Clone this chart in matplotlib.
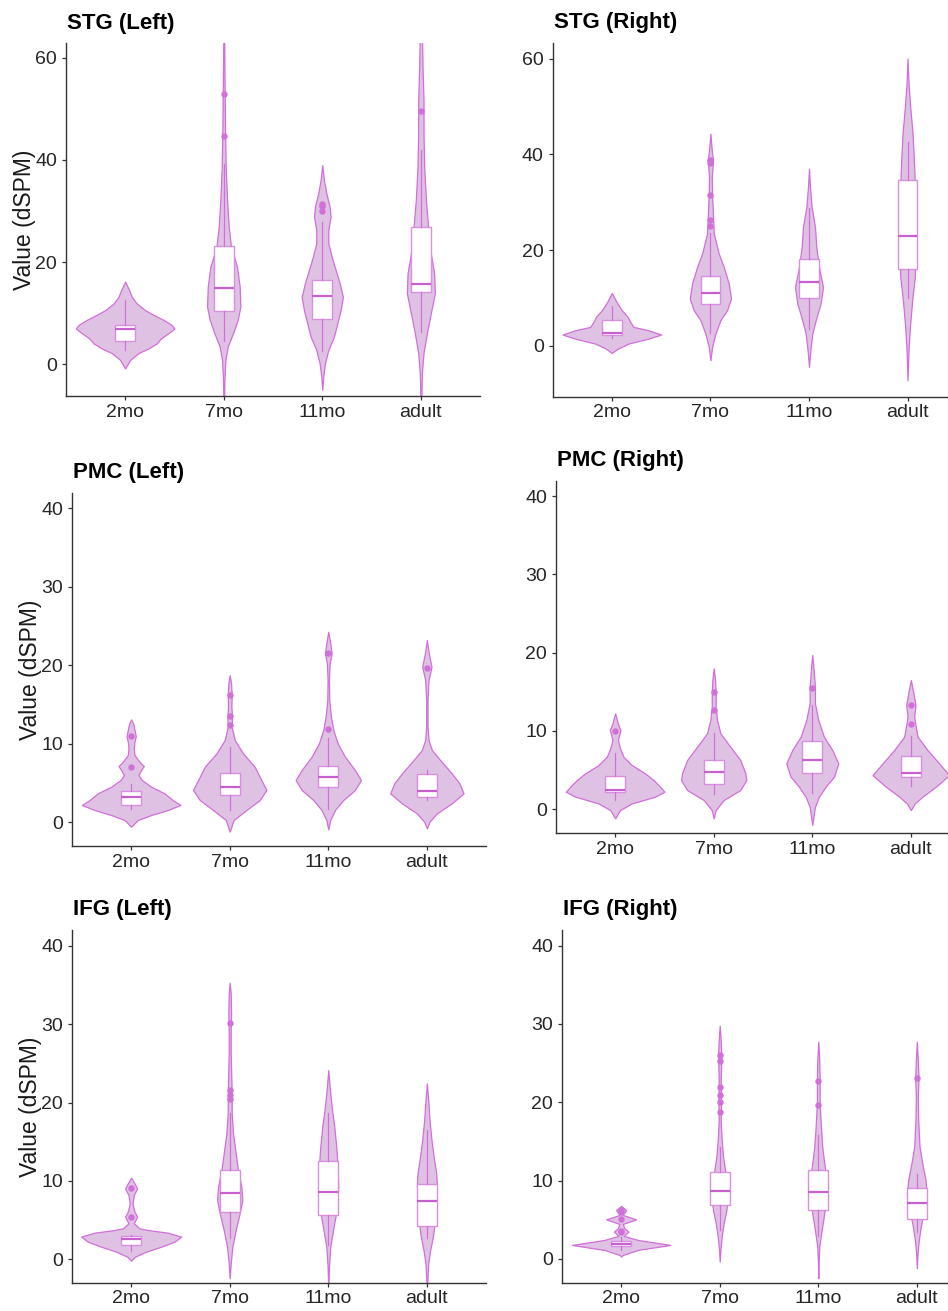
import matplotlib
matplotlib.use("Agg")
import matplotlib.pyplot as plt

plt.rcParams['font.family'] = ['Liberation Sans', 'DejaVu Sans']

categories = ['2mo', '7mo', '11mo', 'adult']

# ---------------- STG (Left) ----------------
stg_l_vy = [
    [-0.8, 0.85, 2.2, 3.1, 4.1, 5.1, 6.1, 7.0, 7.7, 8.7, 9.7, 10.6, 11.9, 13.2, 14.5, 16.2],
    [-8.0, -3.1, 0.85, 3.5, 6.1, 8.7, 11.3, 15.2, 19.1, 23.0, 26.9, 32.2, 38.7, 45.2, 53.0, 66.0],
    [-5.0, -2.4, 0.2, 2.8, 5.4, 8.0, 10.6, 13.2, 15.9, 18.5, 21.1, 23.7, 26.3, 28.9, 30.9, 33.5, 36.1, 39.0],
    [-8.0, -1.8, 2.2, 6.1, 10.0, 13.9, 17.8, 21.7, 26.9, 32.2, 38.7, 45.2, 51.7, 58.3, 66.0],
]
stg_l_vw = [
    [0, .05, .135, .236, .321, .365, .439, .50, .473, .389, .287, .203, .118, .068, .041, 0],
    [.003, .007, .017, .041, .095, .142, .169, .162, .135, .074, .051, .034, .02, .014, .01, .003],
    [0, .01, .027, .061, .118, .152, .186, .209, .176, .135, .095, .061, .061, .084, .074, .041, .017, 0],
    [.003, .01, .027, .061, .101, .142, .135, .101, .074, .051, .034, .027, .027, .017, .01],
]
stg_l_q1 = [4.6, 10.4, 8.8, 14.2]
stg_l_med = [7.0, 14.9, 13.4, 15.7]
stg_l_q3 = [7.7, 23.2, 16.5, 26.8]
stg_l_lo = [2.9, 4.6, 2.7, 6.4]
stg_l_hi = [12.6, 39.3, 27.9, 42.0]
stg_l_out = [[], [44.6, 53.0], [30.1, 30.9, 31.3], [49.6]]

# ---------------- STG (Right) ----------------
stg_r_vy = [
    [-1.46, -0.56, 0.49, 1.53, 2.37, 3.27, 3.97, 5.01, 6.05, 7.45, 9.19, 11.06],
    [-2.99, -0.21, 2.57, 5.36, 7.45, 9.88, 13.0, 16.5, 19.3, 23.5, 26.9, 31.8, 35.3, 38.8, 40.8, 44.3],
    [-4.38, -0.9, 2.57, 5.36, 8.84, 12.3, 16.5, 20.7, 24.8, 29.0, 33.2, 37.0],
    [-7.17, -0.9, 3.97, 9.53, 14.4, 20.0, 26.9, 33.9, 40.2, 44.3, 49.9, 54.8, 60.0],
]
stg_r_vw = [
    [0, .061, .169, .372, .50, .372, .22, .186, .162, .101, .047, 0],
    [0, .017, .051, .101, .169, .209, .186, .135, .084, .034, .027, .017, .014, .027, .014, 0],
    [0, .014, .034, .068, .118, .142, .101, .074, .061, .027, .01, 0],
    [0, .01, .024, .047, .074, .081, .081, .074, .061, .051, .027, .01, 0],
]
stg_r_q1 = [2.2, 8.7, 9.9, 16.1]
stg_r_med = [2.8, 11.1, 13.4, 22.9]
stg_r_q3 = [5.4, 14.5, 18.2, 34.6]
stg_r_lo = [1.7, 2.6, 3.6, 9.9]
stg_r_hi = [8.3, 23.5, 28.7, 42.6]
stg_r_out = [[], [25.0, 26.2, 31.5, 38.1, 38.8], [], []]

# ---------------- PMC (Left) ----------------
pmc_l_vy = [
    [-0.6, 0.26, 0.89, 1.53, 2.17, 2.8, 3.66, 4.5, 5.35, 5.99, 6.63, 7.14, 7.69, 8.54, 9.39, 10.24, 10.96, 11.73, 12.58, 13.09],
    [-1.23, 0.26, 1.53, 2.8, 4.08, 5.35, 7.05, 8.75, 10.45, 12.15, 13.43, 14.7, 16.19, 17.68, 18.74],
    [-0.93, 0.26, 1.53, 2.8, 4.08, 5.35, 6.63, 8.33, 10.03, 11.73, 13.43, 15.55, 18.1, 20.23, 21.5, 22.78, 24.27],
    [-0.81, 0.04, 1.1, 2.38, 3.65, 4.93, 6.2, 7.9, 9.18, 10.45, 12.15, 15.55, 18.1, 19.8, 21.5, 23.2],
]
pmc_l_vw = [
    [0, .068, .203, .372, .50, .422, .338, .203, .108, .074, .101, .128, .084, .034, .027, .034, .047, .034, .02, 0],
    [0, .04, .169, .304, .372, .321, .253, .135, .051, .02, .024, .017, .02, .014, 0],
    [0, .02, .068, .152, .27, .331, .27, .169, .095, .051, .027, .01, .007, .014, .034, .02, 0],
    [0, .027, .101, .253, .372, .331, .253, .135, .051, .017, .007, .007, .017, .047, .02, 0],
]
pmc_l_q1 = [2.2, 3.4, 4.5, 3.2]
pmc_l_med = [3.2, 4.5, 5.7, 4.0]
pmc_l_q3 = [4.0, 6.2, 7.2, 6.1]
pmc_l_lo = [1.7, 1.5, 1.7, 2.8]
pmc_l_hi = [4.9, 9.6, 10.7, 6.6]
pmc_l_out = [[7.05, 11.0], [12.4, 13.5, 16.2], [11.8, 21.6], [19.7]]

# ---------------- PMC (Right) ----------------
pmc_r_vy = [
    [-1.19, -0.13, 0.72, 1.58, 2.21, 2.85, 3.71, 4.56, 5.62, 6.69, 7.75, 8.82, 9.45, 10.09, 10.95, 12.22],
    [-1.19, -0.13, 1.15, 2.43, 3.71, 4.56, 6.26, 7.96, 9.67, 11.37, 13.07, 14.78, 16.48, 17.97],
    [-2.04, 0.3, 1.58, 2.85, 4.13, 5.83, 7.54, 9.24, 11.37, 13.5, 15.63, 17.76, 19.68],
    [-0.13, 0.72, 1.58, 2.85, 4.34, 5.83, 7.54, 9.24, 10.73, 11.8, 13.29, 14.78, 16.48],
]
pmc_r_vw = [
    [0, .05, .169, .405, .50, .456, .389, .304, .169, .084, .05, .027, .04, .054, .027, 0],
    [0, .02, .101, .27, .331, .321, .27, .169, .068, .034, .02, .02, .014, 0],
    [0, .027, .068, .135, .22, .264, .203, .118, .061, .027, .027, .014, 0],
    [0, .04, .118, .253, .389, .287, .169, .068, .047, .034, .047, .027, 0],
]
pmc_r_q1 = [2.2, 3.2, 4.6, 4.1]
pmc_r_med = [2.4, 4.7, 6.3, 4.6]
pmc_r_q3 = [4.2, 6.3, 8.7, 6.8]
pmc_r_lo = [1.2, 1.9, 2.1, 2.9]
pmc_r_hi = [7.2, 9.7, 13.3, 9.3]
pmc_r_out = [[10.0], [12.7, 15.0], [15.5], [10.9, 13.3]]

# ---------------- IFG (Left) ----------------
ifg_l_vy = [
    [-0.17, 0.34, 0.98, 1.61, 2.25, 2.89, 3.4, 3.74, 3.95, 4.59, 5.44, 6.08, 7.14, 8.2, 9.05, 9.69, 10.41],
    [-2.42, -0.51, 1.61, 3.74, 5.86, 7.56, 9.26, 11.39, 13.51, 16.06, 18.61, 20.74, 22.86, 26.26, 29.24, 31.36, 33.91, 35.27],
    [-4.0, -0.93, 1.61, 4.16, 6.71, 9.26, 11.81, 14.36, 16.91, 19.46, 22.01, 24.14],
    [-4.0, -0.51, 1.19, 2.89, 5.01, 7.56, 9.69, 10.96, 12.66, 15.21, 17.76, 20.31, 22.44],
]
ifg_l_vw = [
    [0, .04, .152, .304, .439, .507, .372, .169, .084, .027, .061, .034, .014, .027, .061, .034, 0],
    [0, .01, .027, .061, .101, .128, .118, .084, .061, .034, .02, .02, .017, .01, .01, .014, .01, 0],
    [0, .007, .02, .054, .091, .101, .095, .081, .061, .034, .014, 0],
    [0, .014, .034, .061, .084, .095, .101, .095, .074, .047, .027, .014, 0],
]
ifg_l_q1 = [1.8, 6.0, 5.7, 4.3]
ifg_l_med = [2.6, 8.5, 8.6, 7.5]
ifg_l_q3 = [3.0, 11.4, 12.5, 9.6]
ifg_l_lo = [1.1, 2.7, 1.8, 2.7]
ifg_l_hi = [3.1, 18.6, 18.6, 16.5]
ifg_l_out = [[5.35, 9.05], [20.4, 20.9, 21.6, 30.2], [], []]

# ---------------- IFG (Right) ----------------
ifg_r_vy = [
    [0.3, 0.51, 1.15, 1.79, 2.43, 2.94, 3.49, 3.91, 4.47, 5.06, 5.62, 6.26, 6.77],
    [-0.34, 1.15, 2.85, 4.55, 6.26, 7.96, 9.23, 11.36, 13.06, 15.19, 17.74, 20.3, 22.85, 25.83, 27.96, 29.79],
    [-2.47, -0.55, 1.57, 3.7, 5.83, 7.96, 10.09, 12.21, 14.34, 16.89, 19.87, 22.85, 25.4, 27.74],
    [-1.19, 0.72, 2.43, 4.13, 6.26, 8.38, 10.09, 11.79, 14.34, 17.74, 20.72, 23.06, 25.4, 27.74],
]
ifg_r_vw = [
    [0, .017, .169, .50, .169, .027, .074, .034, .017, .152, .017, .051, 0],
    [0, .007, .02, .04, .068, .084, .074, .054, .034, .02, .01, .014, .01, .017, .01, 0],
    [0, .003, .01, .034, .061, .084, .084, .061, .04, .027, .014, .014, .01, 0],
    [0, .007, .02, .04, .074, .101, .088, .061, .027, .014, .01, .017, .01, 0],
]
ifg_r_q1 = [1.6, 6.9, 6.2, 5.1]
ifg_r_med = [1.9, 8.7, 8.6, 7.2]
ifg_r_q3 = [2.3, 11.1, 11.4, 9.1]
ifg_r_lo = [1.2, 3.7, 2.9, 3.5]
ifg_r_hi = [2.85, 14.3, 15.8, 10.9]
ifg_r_out = [[3.4, 3.6, 5.1, 6.0, 6.25], [18.7, 20.0, 20.9, 22.0, 25.3, 26.0], [19.7, 22.7], [23.1]]

titles = ['STG (Left)', 'STG (Right)', 'PMC (Left)', 'PMC (Right)', 'IFG (Left)', 'IFG (Right)']
ylabel = 'Value (dSPM)'

panel_data = [
    (stg_l_vy, stg_l_vw, stg_l_q1, stg_l_med, stg_l_q3, stg_l_lo, stg_l_hi, stg_l_out),
    (stg_r_vy, stg_r_vw, stg_r_q1, stg_r_med, stg_r_q3, stg_r_lo, stg_r_hi, stg_r_out),
    (pmc_l_vy, pmc_l_vw, pmc_l_q1, pmc_l_med, pmc_l_q3, pmc_l_lo, pmc_l_hi, pmc_l_out),
    (pmc_r_vy, pmc_r_vw, pmc_r_q1, pmc_r_med, pmc_r_q3, pmc_r_lo, pmc_r_hi, pmc_r_out),
    (ifg_l_vy, ifg_l_vw, ifg_l_q1, ifg_l_med, ifg_l_q3, ifg_l_lo, ifg_l_hi, ifg_l_out),
    (ifg_r_vy, ifg_r_vw, ifg_r_q1, ifg_r_med, ifg_r_q3, ifg_r_lo, ifg_r_hi, ifg_r_out),
]

# ---------------- layout (pixels) ----------------
W, H = 948, 1311
# left, top, right, bottom of each panel box
boxes_px = [
    (66, 43, 480, 396),
    (552.7, 42.7, 966.7, 396.7),
    (72, 492.7, 486, 846),
    (556, 480.7, 970, 833.3),
    (72, 930, 486, 1282.7),
    (562, 930, 976, 1282.7),
]
ylims = [(-6.2, 62.9), (-10.6, 63.3), (-3.06, 42.0), (-3.1, 41.96), (-2.98, 42.0), (-3.03, 42.0)]
yticks = [[0, 20, 40, 60], [0, 20, 40, 60], [0, 10, 20, 30, 40], [0, 10, 20, 30, 40],
          [0, 10, 20, 30, 40], [0, 10, 20, 30, 40]]
ylabel_x = [25, None, 30, None, 30, None]

FILL = '#dfc1e4'
EDGE = '#d070d8'
BOXEDGE = '#d98fe0'
MED = '#c85fcf'
AXC = '#333333'

fig = plt.figure(figsize=(W / 100, H / 100), dpi=100)

for i, (L, T, R, B) in enumerate(boxes_px):
    ax = fig.add_axes([L / W, 1 - B / H, (R - L) / W, (B - T) / H])
    vy, vw, q1, med, q3, lo, hi, out = panel_data[i]
    positions = list(range(1, len(categories) + 1))
    for p, ys, ws in zip(positions, vy, vw):
        left = [p - w for w in ws]
        right = [p + w for w in ws]
        ax.fill_betweenx(ys, left, right, facecolor=FILL, edgecolor=EDGE,
                         linewidth=0.9, zorder=2)
    stats = []
    for k in range(len(categories)):
        stats.append(dict(q1=q1[k], med=med[k], q3=q3[k], whislo=lo[k], whishi=hi[k],
                          fliers=out[k]))
    ax.bxp(stats, positions=positions, widths=0.2, patch_artist=True, showcaps=False,
           boxprops=dict(facecolor='white', edgecolor=BOXEDGE, linewidth=1.0),
           medianprops=dict(color=MED, linewidth=1.6),
           whiskerprops=dict(color=EDGE, linewidth=0.9),
           flierprops=dict(marker='o', markersize=3.6, markerfacecolor=EDGE,
                           markeredgecolor=EDGE, linestyle='none'),
           zorder=3)
    ax.set_xlim(0.4, 4.6)
    ax.set_ylim(*ylims[i])
    ax.set_xticks(positions)
    ax.set_xticklabels(categories)
    ax.set_yticks(yticks[i])
    ax.set_yticklabels([str(t) for t in yticks[i]])
    for s in ['top', 'right']:
        ax.spines[s].set_visible(False)
    for s in ['left', 'bottom']:
        ax.spines[s].set_color(AXC)
        ax.spines[s].set_linewidth(1.0)
    ax.tick_params(axis='both', colors=AXC, labelcolor='#262626', labelsize=14,
                   length=3, width=0.9)
    ax.tick_params(axis='x', pad=2.5)
    ax.tick_params(axis='y', pad=3.5)
    ax.set_facecolor('white')
    # title
    fig.text(L / W + 1 / W, 1 - (T - 20) / H, titles[i], ha='left', va='center',
             fontsize=16, fontweight='bold', color='black')
    if ylabel_x[i] is not None:
        fig.text(ylabel_x[i] / W, 1 - ((T + B) / 2) / H, ylabel, rotation=90,
                 ha='center', va='center', fontsize=16.5, color='#1a1a1a')

fig.savefig('out.png', dpi=100, facecolor='white')
